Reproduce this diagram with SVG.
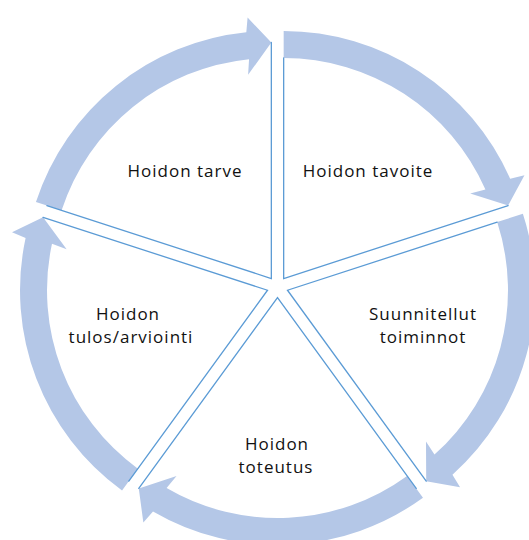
<svg xmlns="http://www.w3.org/2000/svg" width="529" height="540" viewBox="0 0 529 540">
<style>
.band{fill:#B4C7E7;stroke:none}
.edge{stroke:#5B9BD5;stroke-width:1.3;fill:none;stroke-linecap:round}
.lbl{font-family:"Open Sans","DejaVu Sans",sans-serif;font-size:17px;letter-spacing:1px;fill:#111;text-anchor:middle}
</style>
<rect width="529" height="540" fill="#fff"/>
<g id="connectors">
<path class="band" d="M35.94,202.03 A247.5,247.5 0 0 1 246.32,32.28 L247.59,17.59 L271.33,42.51 L248.12,74.83 L249.05,59.14 A220.5,220.5 0 0 0 61.62,210.37 Z"/>
<path class="band" d="M283.67,31.01 A247.5,247.5 0 0 1 510.12,178.63 L524.48,175.30 L508.12,205.58 L470.21,193.50 L485.42,189.53 A220.5,220.5 0 0 0 283.67,58.01 Z"/>
<path class="band" d="M522.88,213.76 A247.5,247.5 0 0 1 452.46,474.75 L460.07,487.37 L426.21,481.17 L425.99,441.38 L434.46,454.62 A220.5,220.5 0 0 0 497.20,222.10 Z"/>
<path class="band" d="M422.98,497.73 A247.5,247.5 0 0 1 153.00,511.41 L143.35,522.55 L138.78,488.43 L176.55,475.92 L166.58,488.07 A220.5,220.5 0 0 0 407.11,475.89 Z"/>
<path class="band" d="M122.03,490.47 A247.5,247.5 0 0 1 25.60,237.94 L12.02,232.19 L43.06,217.31 L66.63,249.37 L51.99,243.64 A220.5,220.5 0 0 0 137.90,468.63 Z"/>
</g>
<g id="node-tarve">
<path class="edge" d="M46.88,205.58 L271.33,278.51 L271.33,42.51"/>
<text class="lbl" x="185" y="177">Hoidon tarve</text>
</g>
<g id="node-tavoite">
<path class="edge" d="M283.67,58.01 L283.67,278.51 L508.12,205.58"/>
<text class="lbl" x="368" y="177">Hoidon tavoite</text>
</g>
<g id="node-suunnitellut">
<path class="edge" d="M497.20,222.10 L287.49,290.24 L426.21,481.17"/>
<text class="lbl" x="423" y="320">Suunnitellut</text>
<text class="lbl" x="423" y="343">toiminnot</text>
</g>
<g id="node-toteutus">
<path class="edge" d="M416.22,488.43 L277.5,297.5 L138.78,488.43"/>
<text class="lbl" x="277" y="450">Hoidon</text>
<text class="lbl" x="276" y="473">toteutus</text>
</g>
<g id="node-tulos">
<path class="edge" d="M128.79,481.17 L267.51,290.24 L43.06,217.31"/>
<text class="lbl" x="128" y="320">Hoidon</text>
<text class="lbl" x="131" y="343">tulos/arviointi</text>
</g>
</svg>
